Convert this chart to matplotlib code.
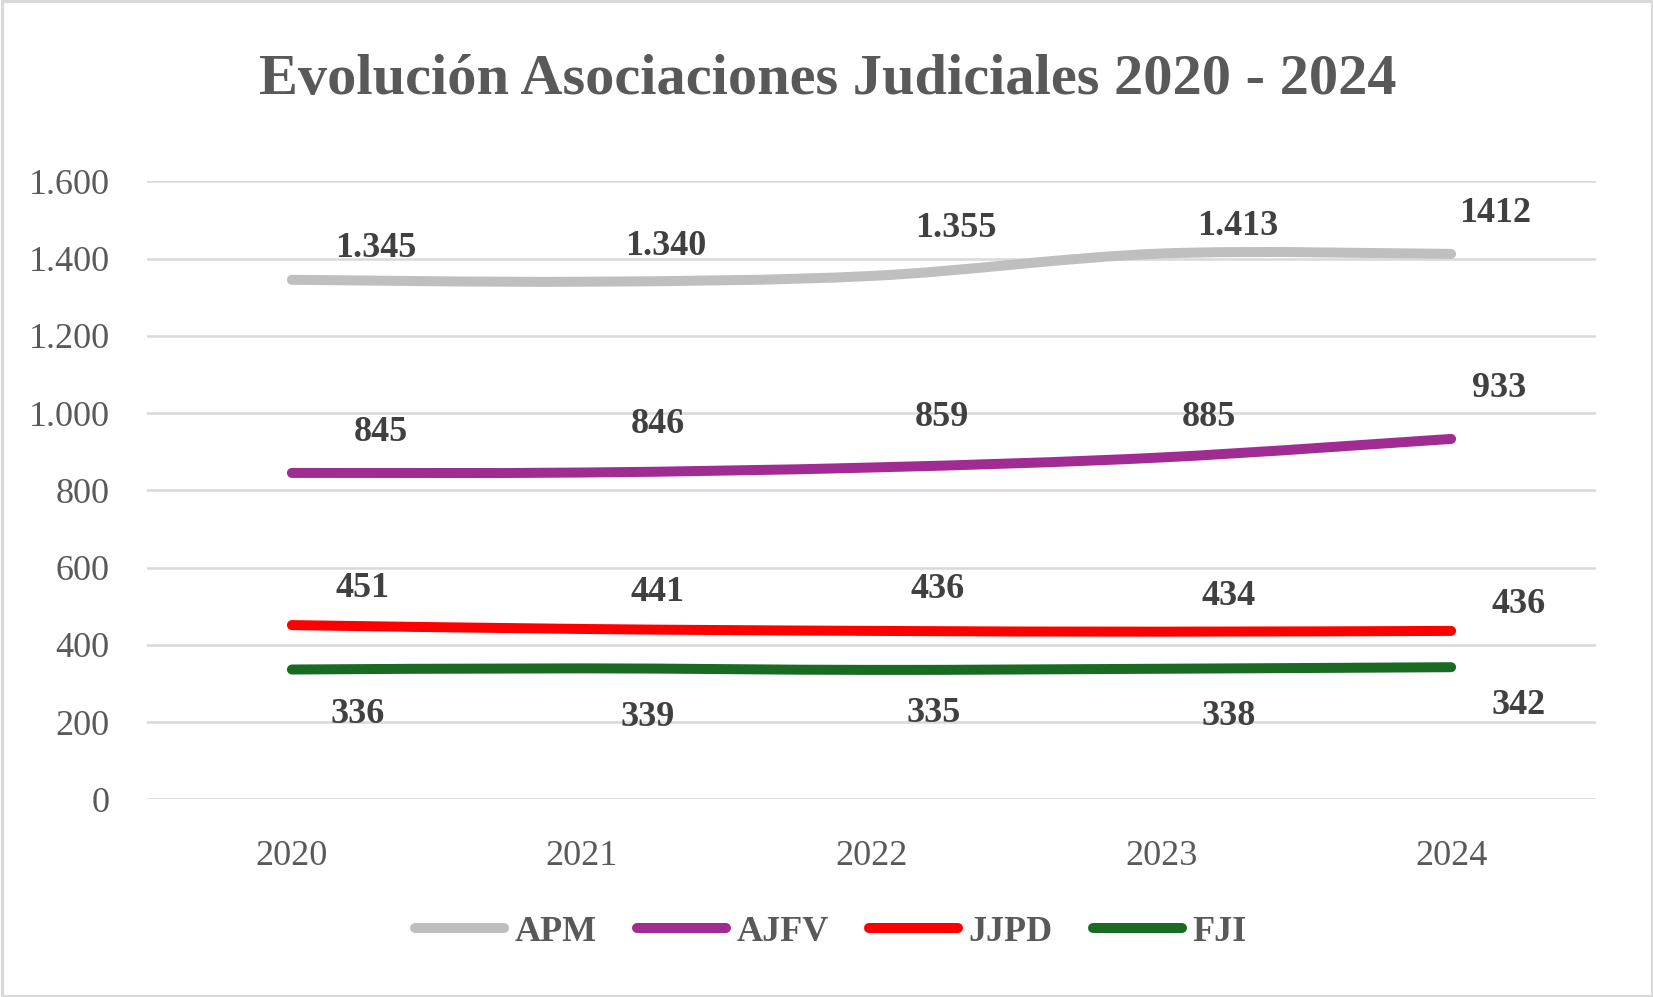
import matplotlib
matplotlib.use("Agg")
import matplotlib.pyplot as plt
from matplotlib.path import Path
from matplotlib.patches import PathPatch, Rectangle
from matplotlib.lines import Line2D
from matplotlib.ticker import FuncFormatter

# ---- data ----
years = ["2020", "2021", "2022", "2023", "2024"]
series_names = ["APM", "AJFV", "JJPD", "FJI"]
apm = [1345, 1340, 1355, 1413, 1412]
ajfv = [845, 846, 859, 885, 933]
jjpd = [451, 441, 436, 434, 436]
fji = [336, 339, 335, 338, 342]
apm_labels = ["1.345", "1.340", "1.355", "1.413", "1412"]
ajfv_labels = ["845", "846", "859", "885", "933"]
jjpd_labels = ["451", "441", "436", "434", "436"]
fji_labels = ["336", "339", "335", "338", "342"]
title = "Evolución Asociaciones Judiciales 2020 - 2024"

# ---- style / layout ----
colors = ["#BFBFBF", "#A02B93", "#FF0000", "#196B24"]
# label offsets in pixels (dx, dy up)
offsets = [
    [(84, 34), (84, 38), (84, 50), (76, 30), (44, 43)],
    [(89, 43), (76, 51), (70, 53), (48, 43), (48, 53)],
    [(71, 40), (76, 39), (66, 44), (67, 38), (67, 29)],
    [(66, -42), (66, -46), (62, -41), (67, -45), (67, -35)],
]
DY_SHIFT = -3
FONT = "Liberation Serif"
W, H = 1653, 997

fig = plt.figure(figsize=(W / 100, H / 100), dpi=100)
fig.patch.set_facecolor("white")
ax = fig.add_axes([147 / W, (H - 799.3) / H, 1449 / W, 618 / H])

def smooth_path(xs, ys, k=1 / 6):
    n = len(xs)
    pts = list(zip(xs, ys))
    verts = [pts[0]]
    codes = [Path.MOVETO]
    for i in range(n - 1):
        p0 = pts[i - 1] if i > 0 else pts[i]
        p1 = pts[i]
        p2 = pts[i + 1]
        p3 = pts[i + 2] if i + 2 < n else pts[i + 1]
        c1 = (p1[0] + (p2[0] - p0[0]) * k, p1[1] + (p2[1] - p0[1]) * k)
        c2 = (p2[0] - (p3[0] - p1[0]) * k, p2[1] - (p3[1] - p1[1]) * k)
        verts += [c1, c2, p2]
        codes += [Path.CURVE4] * 3
    return Path(verts, codes)

all_series = [apm, ajfv, jjpd, fji]
all_labels = [apm_labels, ajfv_labels, jjpd_labels, fji_labels]
xs = list(range(len(years)))
lw = 7.2
handles = []
for vals, labs, col, offs, name in zip(all_series, all_labels, colors, offsets, series_names):
    patch = PathPatch(smooth_path(xs, vals), facecolor="none", edgecolor=col,
                      lw=lw, capstyle="round", joinstyle="round",
                      transform=ax.transData, zorder=3)
    ax.add_patch(patch)
    for x, v, t, (dx, dy) in zip(xs, vals, labs, offs):
        ax.annotate(t, (x, v), xytext=(dx, dy + DY_SHIFT), textcoords="offset pixels",
                    ha="center", va="center", fontsize=26, fontweight="bold",
                    color="#404040", family=FONT, zorder=4)
    handles.append(Line2D([], [], color=col, lw=lw, solid_capstyle="round", label=name))

ax.set_xlim(-0.5, len(years) - 0.5)
ax.set_ylim(0, 1600)
ax.set_yticks(range(0, 1601, 200))
ax.yaxis.set_major_formatter(FuncFormatter(lambda v, p: f"{int(v):,}".replace(",", ".")))
ax.set_xticks(xs)
ax.set_xticklabels(years)
ax.grid(axis="y", color="#D9D9D9", lw=1.8, zorder=0)
ax.set_axisbelow(True)
for s in ax.spines.values():
    s.set_visible(False)
ax.tick_params(axis="both", length=0, labelsize=26, labelcolor="#595959")
ax.tick_params(axis="y", pad=27)
ax.tick_params(axis="x", pad=29)
for lab in ax.get_xticklabels() + ax.get_yticklabels():
    lab.set_family(FONT)

fig.text(828 / W, 1 - 80 / H, title, ha="center", va="center", fontsize=42,
         fontweight="bold", color="#595959", family=FONT)

leg = fig.legend(handles=handles, loc="center", bbox_to_anchor=(831 / W, 1 - 932 / H),
                 ncol=4, frameon=False, handlelength=2.45, handletextpad=0.3,
                 columnspacing=1.12,
                 prop={"family": FONT, "size": 26, "weight": "bold"})
for t in leg.get_texts():
    t.set_color("#595959")

fig.patches.append(Rectangle((1.5 / W, 1.5 / H), 1 - 3 / W, 1 - 3 / H, transform=fig.transFigure,
                             fill=False, edgecolor="#D9D9D9", lw=2.2))

fig.savefig("out.png", dpi=100, facecolor="white")
